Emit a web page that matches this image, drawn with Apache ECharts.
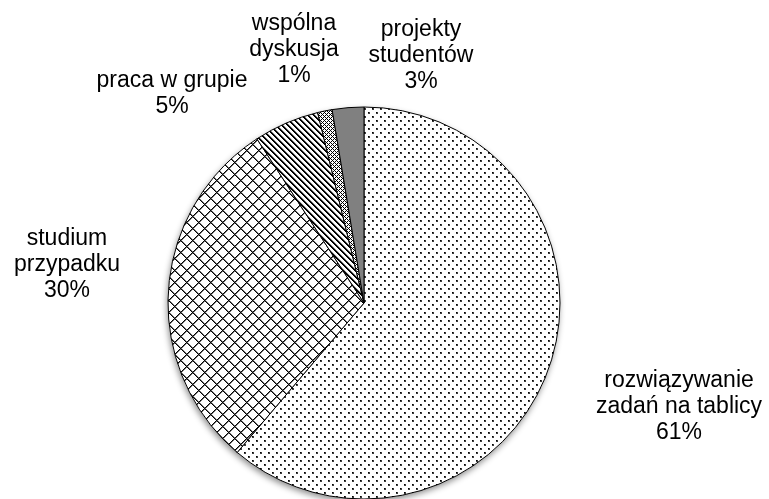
<!DOCTYPE html>
<html>
<head>
<meta charset="utf-8">
<script src="https://cdn.jsdelivr.net/npm/echarts@6/dist/echarts.min.js"></script>
<style>
html,body{margin:0;padding:0;background:#fff;}
#c{width:769px;height:499px;}
</style>
</head>
<body>
<div id="c"></div>
<script>
// ---- data ----
var categories = ['rozwiązywanie\nzadań na tablicy', 'studium\nprzypadku', 'praca w grupie', 'wspólna\ndyskusja', 'projekty\nstudentów'];
var values = [61.2, 29.6, 5.4, 1.2, 2.6];

// ---- label layout (text positions) ----
var labelPos = [[679, 407], [67, 265], [172, 94], [294, 50], [421, 56]];

// ---- patterns ----
function makeTile(size, fn) {
  var cv = document.createElement('canvas');
  cv.width = size; cv.height = size;
  var ctx = cv.getContext('2d');
  var img = ctx.createImageData(size, size);
  for (var y = 0; y < size; y++) {
    for (var x = 0; x < size; x++) {
      var v = fn(x, y);
      var i = (y * size + x) * 4;
      img.data[i] = v; img.data[i + 1] = v; img.data[i + 2] = v; img.data[i + 3] = 255;
    }
  }
  ctx.putImageData(img, 0, 0);
  return cv;
}
function mod(a, n) { return ((a % n) + n) % n; }

var dots = makeTile(8, function (x, y) {
  var inA = (x <= 1 && y <= 1), inB = (x >= 4 && x <= 5 && y >= 4 && y <= 5);
  if ((x === 0 && y === 0) || (x === 4 && y === 4)) return 0;
  if (inA || inB) return 60;
  return 255;
});
var diamonds = makeTile(12, function (x, y) {
  var a = mod(x + y, 12), b = mod(x - y, 12);
  if (a === 0 || b === 0) return 0;
  if (a === 1 || b === 1) return 110;
  return 255;
});
var stripes = makeTile(6, function (x, y) {
  var a = mod(x - y, 6);
  if (a === 0 || a === 1) return 0;
  if (a === 2) return 150;
  return 255;
});
var smallGrid = makeTile(4, function (x, y) {
  var a = mod(x + y, 4), b = mod(x - y, 4);
  if (a === 0 || b === 0) return 0;
  return 255;
});
var fills = [
  { image: dots, repeat: 'repeat' },
  { image: diamonds, repeat: 'repeat' },
  { image: stripes, repeat: 'repeat' },
  { image: smallGrid, repeat: 'repeat' },
  '#808080'
];

var data = categories.map(function (c, i) {
  return { name: c, value: values[i], itemStyle: { color: fills[i] } };
});

var chart = echarts.init(document.getElementById('c'), null, { renderer: 'canvas' });
chart.setOption({
  backgroundColor: '#fff',
  animation: false,
  series: [
    {
      type: 'pie',
      silent: true,
      center: [364, 303],
      radius: 196,
      z: 1,
      label: { show: false },
      labelLine: { show: false },
      data: [{ value: 1, itemStyle: { color: '#fff', shadowBlur: 6, shadowOffsetY: 3, shadowOffsetX: -1, shadowColor: 'rgba(0,0,0,0.45)' } }]
    },
    {
      type: 'pie',
      center: [364, 303],
      radius: 196,
      z: 2,
      startAngle: 90,
      clockwise: true,
      percentPrecision: 0,
      avoidLabelOverlap: false,
      itemStyle: { borderColor: '#000', borderWidth: 1 },
      label: {
        show: true,
        position: 'outside',
        formatter: '{b}\n{d}%',
        fontFamily: 'Liberation Sans, Arial, sans-serif',
        fontSize: 23,
        lineHeight: 26,
        color: '#000',
        align: 'center',
        overflow: 'none',
        width: 300
      },
      labelLine: { show: false },
      labelLayout: function (p) {
        var pos = labelPos[p.dataIndex];
        return { x: pos[0], y: pos[1], align: 'center', verticalAlign: 'middle', hideOverlap: false };
      },
      data: data
    }
  ]
});
</script>
</body>
</html>
